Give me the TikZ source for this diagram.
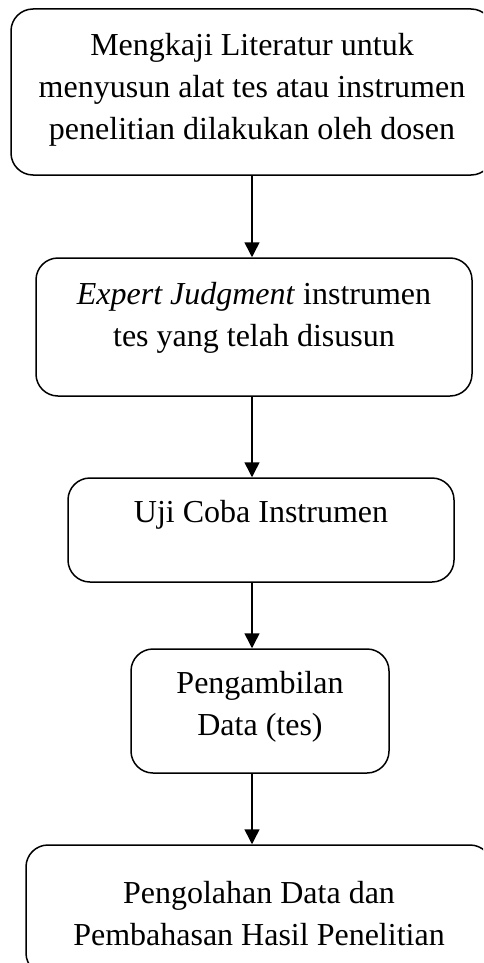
\documentclass[tikz,border=0pt]{standalone}
\usepackage{fontspec}
\setmainfont{Liberation Serif}
\usetikzlibrary{arrows.meta}

\begin{document}
\begin{tikzpicture}[x=1pt, y=1pt, >={Triangle[width=15pt,length=15pt]}, line width=1.5pt,
  stepbox/.style={draw, rounded corners=22pt, inner sep=0pt},
  steptext/.style={align=center, inner sep=0pt, font=\fontsize{32pt}{42pt}\selectfont}]
  \clip (0,0) rectangle (483,-963);
  \node[stepbox, minimum width=482pt, minimum height=166pt,
    label={[steptext, anchor=north, yshift=-24pt]north:{Mengkaji Literatur untuk\\menyusun alat tes atau instrumen\\penelitian dilakukan oleh dosen}}] (kajian) at (252,-92) {};
  \node[stepbox, minimum width=436pt, minimum height=138pt,
    label={[steptext, anchor=north, yshift=-24pt]north:{\textit{Expert Judgment} instrumen\\tes yang telah disusun}}] (expert) at (254,-327) {};
  \node[stepbox, minimum width=386pt, minimum height=104pt,
    label={[steptext, anchor=north, yshift=-22pt]north:{Uji Coba Instrumen}}] (ujicoba) at (261,-530) {};
  \node[stepbox, minimum width=258pt, minimum height=124pt,
    label={[steptext, anchor=north, yshift=-22pt]north:{Pengambilan\\Data (tes)}}] (ambil) at (260,-711) {};
  \node[stepbox, minimum width=466pt, minimum height=130pt,
    label={[steptext, anchor=north, yshift=-36pt]north:{Pengolahan Data dan\\Pembahasan Hasil Penelitian}}] (olah) at (259,-910) {};
  % alur
  \draw[->] (kajian.south) -- (kajian.south |- expert.north);
  \draw[->] (expert.south -| kajian) -- (kajian |- ujicoba.north);
  \draw[->] (ujicoba.south -| kajian) -- (kajian |- ambil.north);
  \draw[->] (ambil.south -| kajian) -- (kajian |- olah.north);
\end{tikzpicture}
\end{document}
